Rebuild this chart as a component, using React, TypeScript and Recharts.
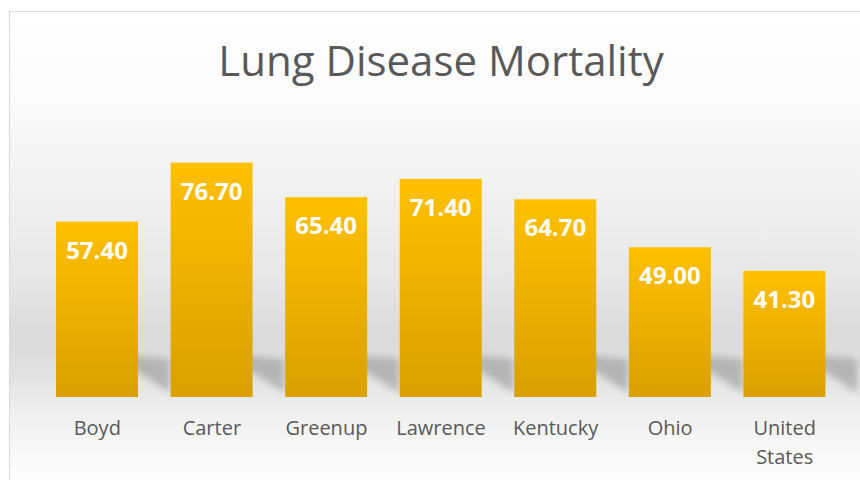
import { BarChart, Bar, XAxis, YAxis, LabelList } from "recharts";

const categories = ["Boyd", "Carter", "Greenup", "Lawrence", "Kentucky", "Ohio", "United States"];
const mortality = [57.4, 76.7, 65.4, 71.4, 64.7, 49.0, 41.3];

const data = categories.map((name, i) => ({ name, value: mortality[i] }));

const FONT = "'Open Sans', 'Noto Sans', sans-serif";

const BarShape = (props: any) => {
  const { x, y, width, height } = props;
  const yb = y + height;
  const r = x + width;
  return (
    <g>
      <polygon
        points={`${x + width * 0.5},${yb - 44} ${r},${yb - 41} ${r + 32},${yb - 38} ${r + 32},${yb - 4} ${r},${yb - 25} ${x + width * 0.5},${yb - 30}`}
        fill="#a6a6a6"
        opacity={0.75}
        filter="url(#shadowBlur)"
      />
      <rect x={x} y={y} width={width} height={height} fill="url(#barGrad)" />
    </g>
  );
};

const ValueLabel = (props: any) => {
  const { x, y, width, value } = props;
  return (
    <text
      x={x + width / 2}
      y={y + 37}
      textAnchor="middle"
      fill="#ffffff"
      fontSize={24}
      fontWeight={700}
      fontFamily={FONT}
    >
      {Number(value).toFixed(2)}
    </text>
  );
};

const CategoryTick = (props: any) => {
  const { x, y, payload } = props;
  const label: string = payload.value;
  const lines = label.length > 10 ? label.split(" ") : [label];
  return (
    <text x={x} y={y + 30} textAnchor="middle" fill="#595959" fontSize={20} fontFamily={FONT}>
      {lines.map((line, i) => (
        <tspan key={i} x={x} dy={i === 0 ? 0 : 29}>
          {line}
        </tspan>
      ))}
    </text>
  );
};

export default function App() {
  return (
    <div style={{ position: "absolute", left: 0, top: 0, width: 860, height: 480, overflow: "hidden", background: "#fff" }}>
      <div
        style={{
          position: "absolute",
          left: 9,
          top: 11,
          width: 900,
          height: 520,
          border: "1px solid #d9d9d9",
          background:
            "linear-gradient(to bottom, #ffffff 0px, #fafafa 90px, #f1f1f1 180px, #e6e6e6 270px, #dadada 325px, #e2e2e2 365px, #eeeeee 395px, #f6f6f6 430px, #fdfdfd 469px, #ffffff 520px)",
        }}
      />
      <div
        style={{
          position: "absolute",
          left: 0,
          top: 39,
          width: 882,
          textAlign: "center",
          fontFamily: FONT,
          fontSize: 42,
          lineHeight: "42px",
          color: "#595959",
        }}
      >
        Lung Disease Mortality
      </div>
      <div style={{ position: "absolute", left: 0, top: 0 }}>
        <BarChart
          width={860}
          height={480}
          data={data}
          margin={{ top: 122, right: 18, left: 40, bottom: 0 }}
          barSize={82}
        >
          <defs>
            <linearGradient id="barGrad" x1="0" y1="0" x2="0" y2="1">
              <stop offset="0%" stopColor="#FFC000" />
              <stop offset="100%" stopColor="#D9A000" />
            </linearGradient>
            <filter id="shadowBlur" x="-50%" y="-50%" width="200%" height="200%">
              <feGaussianBlur stdDeviation="3.5" />
            </filter>
          </defs>
          <XAxis
            dataKey="name"
            axisLine={false}
            tickLine={false}
            height={83}
            interval={0}
            tick={<CategoryTick />}
          />
          <YAxis hide domain={[0, 90]} />
          <Bar dataKey="value" shape={<BarShape />} isAnimationActive={false}>
            <LabelList dataKey="value" content={<ValueLabel />} />
          </Bar>
        </BarChart>
      </div>
    </div>
  );
}
